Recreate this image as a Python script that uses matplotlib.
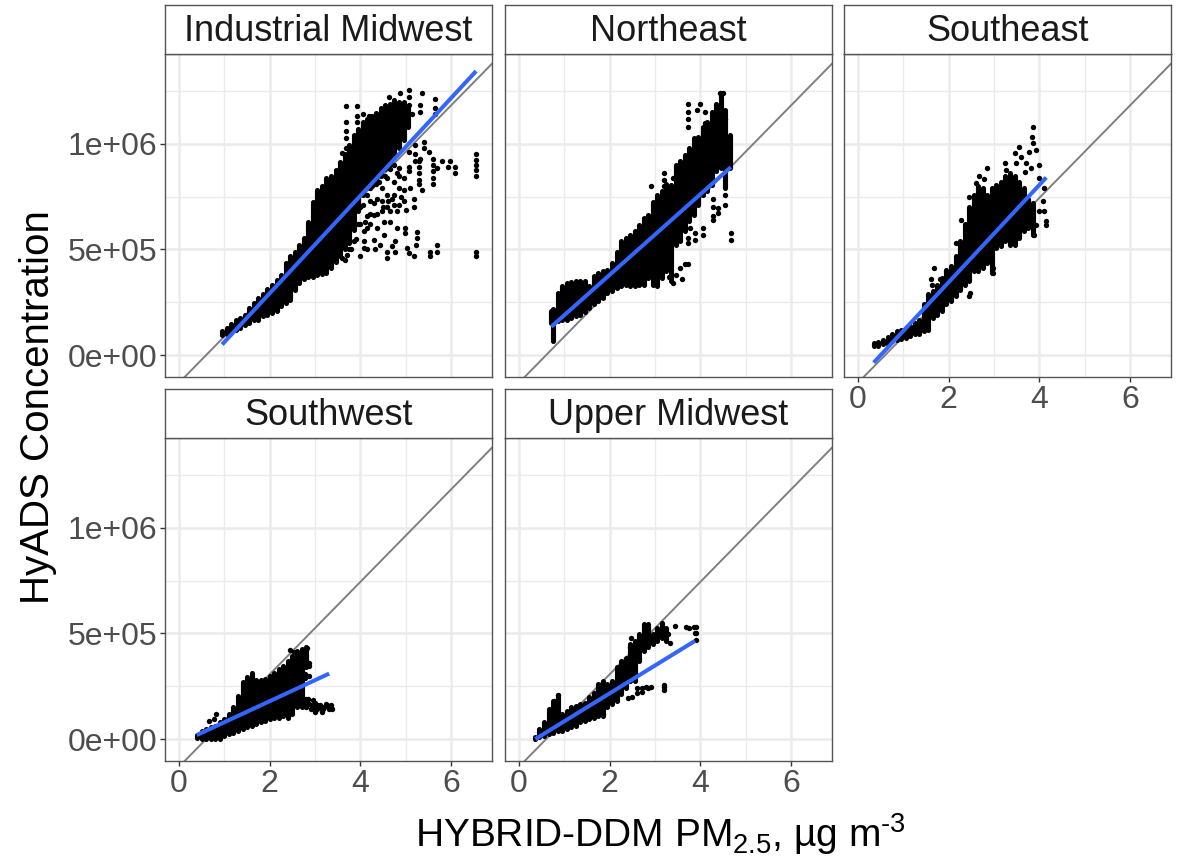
import matplotlib
matplotlib.use('Agg')
import matplotlib.pyplot as plt
import numpy as np

plt.rcParams['font.family'] = ['Liberation Sans', 'DejaVu Sans']
plt.rcParams['mathtext.fontset'] = 'custom'
plt.rcParams['mathtext.rm'] = 'Liberation Sans'
plt.rcParams['mathtext.default'] = 'regular'

# all y values in units of 1e5
# *_cx / *_lo / *_hi: vertical extent of the solid overplotted cloud, read per x column
# *_px / *_py: single dots standing clear of the cloud

# Industrial Midwest
im_cx = [0.95,1.05,1.15,1.25,1.35,1.45,1.55,1.65,1.75,1.85,1.95,2.05,2.15,2.25,2.35,2.45,2.55,2.65,2.75,2.85,
         2.95,3.05,3.15,3.25,3.35,3.45,3.55,3.65,3.75,3.85,3.95,4.05,4.15,4.25,4.35,4.45,4.55,4.65,4.75,4.85,4.95,5.05]
im_lo = [0.95,1.0,1.13,1.2,1.3,1.4,1.53,1.65,1.68,1.84,1.92,2.0,2.08,2.3,2.47,2.63,3.1,3.4,3.6,3.7,
         3.7,3.78,3.84,3.9,4.1,4.4,4.7,5.0,5.3,5.9,6.8,7.6,8.0,8.0,8.3,8.5,8.8,9.0,9.4,9.8,10.2,10.8]
im_hi = [1.15,1.3,1.48,1.65,1.76,1.92,2.24,2.47,2.7,2.9,3.13,3.34,3.57,3.8,4.36,4.67,4.9,5.2,5.54,6.3,
         7.27,7.83,8.0,8.4,8.5,8.77,9.16,9.5,9.95,10.4,10.7,11.05,11.2,11.3,11.45,11.7,11.85,11.9,12.1,12.0,12.0,11.7]
im_px = [6.55,6.55,6.55,6.55,6.55,6.55,6.55,6.08,6.08,5.98,5.94,5.8,5.6,5.6,5.6,5.6,5.6,5.69,5.36,5.28,5.28,5.28,5.28,5.28,
         5.5,5.39,5.39,5.32,5.2,5.17,5.17,5.1,5.06,5.06,4.95,4.95,4.95,5.0,4.86,4.86,4.73,4.73,4.73,4.8,4.8,4.99,4.99,5.25,5.25,
         5.03,5.06,5.19,5.23,5.54,5.54,5.69,5.69,4.77,4.77,4.59,4.59,4.7,4.51,4.51,4.37,4.37,4.37,4.22,4.22,4.22,4.29,4.07,4.07,4.07,
         4.15,4.33,4.0,4.44,4.66,4.66,4.48,4.48,4.48,4.59,4.59,4.59,4.15,4.15,4.15,4.0,4.0,4.29,4.84,4.84,
         3.68,3.93,3.93,3.93,3.68,3.68,4.05,3.6,3.68,3.68,4.18,4.62,4.88,5.08,5.08,5.08,5.36,5.32,5.32,5.65,5.65,5.65,5.14,5.2,5.2,5.06,
         3.6,3.7,3.8,3.9,3.95,3.85,3.75,3.65,4.05,4.1,4.2,4.3,4.4,4.5,4.6,4.7,4.8,4.9,4.05,4.15,4.25,4.35,4.45,4.55,4.65,4.75]
im_py = [9.5,9.25,9.0,8.75,8.5,4.9,4.7,8.93,8.61,9.17,8.93,9.2,9.3,9.0,8.7,8.4,8.1,8.85,7.83,9.2,8.9,8.6,8.3,8.1,
         9.6,10.1,9.8,9.3,9.2,7.4,7.0,7.9,8.9,8.7,8.4,7.8,7.3,6.88,8.85,8.5,8.2,7.6,7.1,6.8,6.0,6.0,5.8,5.85,5.55,
         5.07,4.83,4.68,5.23,4.9,4.68,5.23,4.9,5.4,4.9,4.9,4.6,5.15,6.3,5.7,7.4,6.7,6.0,7.3,6.7,6.2,5.46,5.86,5.4,5.07,
         5.0,5.0,4.68,5.23,6.8,6.3,7.9,7.3,6.8,8.4,7.6,7.0,7.6,6.6,6.0,7.0,6.2,6.65,7.9,7.1,
         11.8,11.8,11.3,11.05,11.05,10.6,11.4,9.55,10.27,9.8,11.3,12.2,12.4,12.55,12.2,11.85,12.4,11.85,11.5,12.15,11.7,11.4,11.4,9.95,9.5,9.6,
         4.6,4.75,5.0,5.5,6.2,5.4,5.0,4.5,7.1,6.3,7.9,7.2,8.2,7.0,7.3,7.4,8.6,7.5,8.1,8.2,8.5,8.1,8.7,8.5,8.8,9.0]
im_fit_x = [0.95, 6.55]
im_fit_y = [0.5, 13.45]

# Northeast
ne_cx = [0.7,0.75,0.85,0.95,1.05,1.15,1.25,1.35,1.45,1.55,1.65,1.75,1.85,1.95,2.05,2.15,2.25,2.35,2.45,2.55,2.65,2.75,2.85,
         2.95,3.05,3.15,3.25,3.35,3.45,3.55,3.65,3.75,3.85,3.95,4.05,4.15,4.25,4.35,4.45,4.55,4.65]
ne_lo = [1.53,0.66,1.6,1.65,1.68,1.76,1.84,1.92,2.03,2.24,2.4,2.55,2.7,2.95,3.02,3.18,3.26,3.34,3.26,3.26,3.34,3.34,3.65,
         3.34,3.26,3.65,3.97,3.5,5.2,5.4,5.86,6.33,6.65,7.1,7.6,7.75,8.06,8.7,8.85,7.9,8.85]
ne_hi = [2.08,2.16,2.95,3.26,3.42,3.46,3.5,3.53,3.53,3.26,3.73,3.9,3.97,4.05,4.36,4.9,5.39,5.54,5.7,5.86,6.17,6.5,6.65,
         7.27,7.6,7.75,8.1,8.06,9.0,9.17,9.48,9.8,10.27,10.35,10.8,11.05,11.5,11.9,12.4,11.6,10.43]
ne_px = [3.45,3.55,3.65,3.72,3.6,3.4,3.3,3.2,4.27,4.27,4.27,4.27,4.38,4.38,4.54,4.54,4.67,4.67,4.05,4.05,3.88,3.88,3.72,3.72,3.76,
         2.91,3.19,3.19,3.19,3.39,3.72,3.72,3.72,3.72,3.98,3.92,4.09,4.09,4.53,4.42,4.49]
ne_py = [3.8,4.1,4.3,4.3,3.6,3.4,3.7,4.2,7.4,7.0,6.6,6.4,6.96,6.72,7.6,7.1,5.78,5.46,6.0,5.7,5.78,5.46,5.54,5.3,6.0,
         8.0,8.6,8.3,8.0,8.38,11.9,11.5,11.2,10.8,11.9,11.6,11.5,11.0,11.2,12.4,12.4]
ne_fit_x = [0.71, 4.67]
ne_fit_y = [1.34, 8.9]

# Southeast
se_cx = [0.35,0.45,0.55,0.65,0.75,0.85,0.95,1.05,1.15,1.25,1.35,1.45,1.55,1.65,1.75,1.85,1.95,2.05,2.15,2.25,2.35,2.45,
         2.55,2.65,2.75,2.85,2.95,3.05,3.15,3.25,3.35,3.45,3.55,3.65,3.75,3.85]
se_lo = [0.42,0.45,0.5,0.54,0.66,0.69,0.74,0.82,0.9,0.98,1.0,1.13,1.17,1.76,1.92,2.08,2.4,2.55,2.79,3.1,3.34,3.5,
         3.97,3.97,4.13,4.36,3.9,5.07,5.15,5.39,5.23,5.23,5.54,5.86,6.0,5.7]
se_hi = [0.55,0.6,0.72,0.85,0.98,1.13,1.21,1.29,1.37,1.53,1.68,2.4,2.87,3.02,3.34,3.65,4.05,4.2,4.7,5.4,6.2,7.0,
         7.6,8.0,7.9,7.6,7.9,8.06,8.2,8.5,8.6,8.5,8.2,7.9,7.4,7.2]
se_px = [3.86,3.83,3.85,3.93,3.54,3.45,3.49,3.78,3.6,3.24,2.84,2.66,2.77,2.6,2.44,2.28,2.16,1.67,1.61,1.64,1.8,2.46,2.44,2.97,2.97,
         4.0,4.0,4.11,4.11,4.15,4.15,4.0,4.07,3.89,3.93,3.7,3.27,3.67,3.81,3.74,3.78]
se_py = [10.8,10.35,10.03,9.7,9.87,9.55,9.08,9.64,9.4,9.08,8.85,8.5,8.35,8.14,7.5,6.38,5.3,4.13,3.62,3.34,3.62,2.95,2.79,4.13,3.9,
         9.0,8.4,7.9,6.8,6.33,6.17,6.8,7.3,5.7,6.17,9.08,8.77,8.69,8.85,7.3,6.33]
se_fit_x = [0.345, 4.15]
se_fit_y = [-0.36, 8.41]

# Southwest
sw_cx = [0.4,0.5,0.6,0.7,0.8,0.9,1.0,1.1,1.2,1.3,1.4,1.5,1.6,1.7,1.8,1.9,2.0,2.1,2.2,2.3,2.4,2.5,2.6,2.7,2.8]
sw_lo = [0.05,0.0,0.0,0.0,0.0,0.0,0.15,0.24,0.3,0.36,0.47,0.55,0.63,0.7,0.8,0.84,0.95,1.0,1.0,1.1,1.0,1.18,1.5,1.5,3.4]
sw_hi = [0.2,0.4,0.47,0.55,0.63,0.8,0.95,1.18,1.5,2.05,2.68,2.95,3.15,2.8,2.8,2.84,3.0,3.15,3.3,3.47,3.7,3.94,4.18,4.26,4.34]
sw_px = [2.85,2.9,3.0,3.0,3.1,3.15,3.2,3.3,3.35,3.37,3.27,3.05,2.75,2.8,0.81,0.77,0.66,2.44,2.53,2.87,2.87,2.78,2.78,2.86,2.67,2.82,
         2.85,2.95,2.95,3.05,3.12,3.18,3.24,3.31,3.36,2.8,2.9]
sw_py = [1.9,1.6,1.7,1.3,1.6,1.3,1.5,1.5,1.5,1.4,1.6,1.4,1.7,1.5,1.21,0.95,0.84,4.2,4.1,3.6,3.47,3.08,2.89,3.0,3.15,4.29,
         1.7,1.85,1.5,1.6,1.45,1.4,1.65,1.4,1.6,1.9,1.4]
sw_fit_x = [0.39, 3.31]
sw_fit_y = [0.19, 3.1]

# Upper Midwest
um_cx = [0.35,0.45,0.55,0.65,0.75,0.85,0.95,1.05,1.15,1.25,1.35,1.45,1.55,1.65,1.75,1.85,1.95,2.05,2.15,2.25,2.35,2.45,
         2.55,2.65,2.75,2.85,2.95,3.05,3.15,3.25]
um_lo = [0.0,0.08,0.15,0.24,0.3,0.4,0.4,0.47,0.55,0.63,0.8,0.87,0.95,1.0,1.1,1.1,1.5,1.66,1.8,2.13,2.44,2.76,
         2.76,3.7,4.18,4.34,4.5,4.65,4.8,4.65]
um_hi = [0.1,0.47,0.8,1.42,1.8,2.1,1.2,1.34,1.5,1.58,1.66,1.73,1.97,2.2,2.6,2.76,2.6,2.76,3.4,3.7,3.86,4.5,
         4.65,4.97,5.44,5.44,4.97,5.28,5.5,5.28]
um_px = [2.6,2.7,2.8,2.85,2.9,2.5,2.6,2.7,2.4,3.2,3.2,3.2,3.43,3.68,3.75,3.85,3.9,3.9,3.9,3.87,3.32,3.28,2.47,2.44,0.86,0.78,1.85]
um_py = [2.4,2.4,2.45,2.4,2.45,2.0,2.2,2.25,1.95,2.45,2.3,2.55,5.36,5.3,5.25,5.3,5.3,5.0,4.7,5.0,4.57,4.97,4.8,4.34,2.08,1.81,1.18]
um_fit_x = [0.36, 3.88]
um_fit_y = [0.0, 4.65]

titles = ['Industrial Midwest', 'Northeast', 'Southeast', 'Southwest', 'Upper Midwest']
clouds = [(im_cx, im_lo, im_hi), (ne_cx, ne_lo, ne_hi), (se_cx, se_lo, se_hi), (sw_cx, sw_lo, sw_hi), (um_cx, um_lo, um_hi)]
dots = [(im_px, im_py), (ne_px, ne_py), (se_px, se_py), (sw_px, sw_py), (um_px, um_py)]
fits = [(im_fit_x, im_fit_y), (ne_fit_x, ne_fit_y), (se_fit_x, se_fit_y), (sw_fit_x, sw_fit_y), (um_fit_x, um_fit_y)]
x_ticks = [0, 2, 4, 6]
x_minor = [1, 3, 5]
y_ticks = [0, 500000, 1000000]
y_minor = [250000, 750000, 1250000]
y_labels = ['0e+00', '5e+05', '1e+06']
one_slope = 2.19e5
one_intercept = -1.31e5

W, H = 1178, 858
fig = plt.figure(figsize=(W / 100, H / 100), dpi=100)


def box(left, top, right, bottom):
    return [left / W, 1 - bottom / H, (right - left) / W, (bottom - top) / H]


lefts = [165, 505, 844, 165, 505]
tops = [54, 54, 54, 438, 438]
border = '#555555'
for i, name in enumerate(titles):
    left = lefts[i]
    top = tops[i]
    ax = fig.add_axes(box(left, top, left + 327, top + 323))
    ax.set_xlim(-0.31, 6.9)
    ax.set_ylim(-104000, 1426000)
    ax.set_axisbelow(True)
    ax.set_xticks(x_ticks)
    ax.set_xticks(x_minor, minor=True)
    ax.set_yticks(y_ticks)
    ax.set_yticks(y_minor, minor=True)
    ax.grid(which='major', color='#EBEBEB', lw=1.8)
    ax.grid(which='minor', color='#EBEBEB', lw=1.0)
    ax.tick_params(which='minor', length=0)
    ax.tick_params(which='major', length=3.6, width=1, color='#333333', labelcolor='#4D4D4D', labelsize=23, pad=2)
    ax.set_yticklabels(y_labels)
    if i not in (0, 3):
        ax.tick_params(axis='y', which='major', left=False, labelleft=False)
    if i in (0, 1):
        ax.tick_params(axis='x', which='major', bottom=False, labelbottom=False)
    for s in ax.spines.values():
        s.set_color(border)
        s.set_linewidth(1)

    ax.axline((0, one_intercept), slope=one_slope, color='#7F7F7F', lw=1.4, zorder=1.5)
    cx, lo, hi = clouds[i]
    ax.vlines(cx, np.array(lo) * 1e5, np.array(hi) * 1e5, color='black', lw=3.7,
              capstyle='round', zorder=2)
    px, py = dots[i]
    ax.scatter(px, np.array(py) * 1e5, s=15, color='black', linewidths=0, zorder=2)
    fx, fy = fits[i]
    ax.plot(fx, np.array(fy) * 1e5, color='#3366FF', lw=2.9, solid_capstyle='butt', zorder=4)

    st = fig.add_axes(box(left, top - 49, left + 327, top))
    st.set_xticks([])
    st.set_yticks([])
    for s in st.spines.values():
        s.set_color(border)
        s.set_linewidth(1)
    st.text(0.5, 0.46, name, ha='center', va='center', fontsize=26, color='#1A1A1A', transform=st.transAxes)

fig.text(38 / W, 1 - 407 / H, 'HyADS Concentration', rotation=90, ha='center', va='center', fontsize=29)
fig.text(660 / W, 1 - 834 / H, r'HYBRID-DDM PM$_{2.5}$, µg m$^{\text{-}3}$', ha='center', va='center', fontsize=28)

fig.savefig('out.png', dpi=100)
